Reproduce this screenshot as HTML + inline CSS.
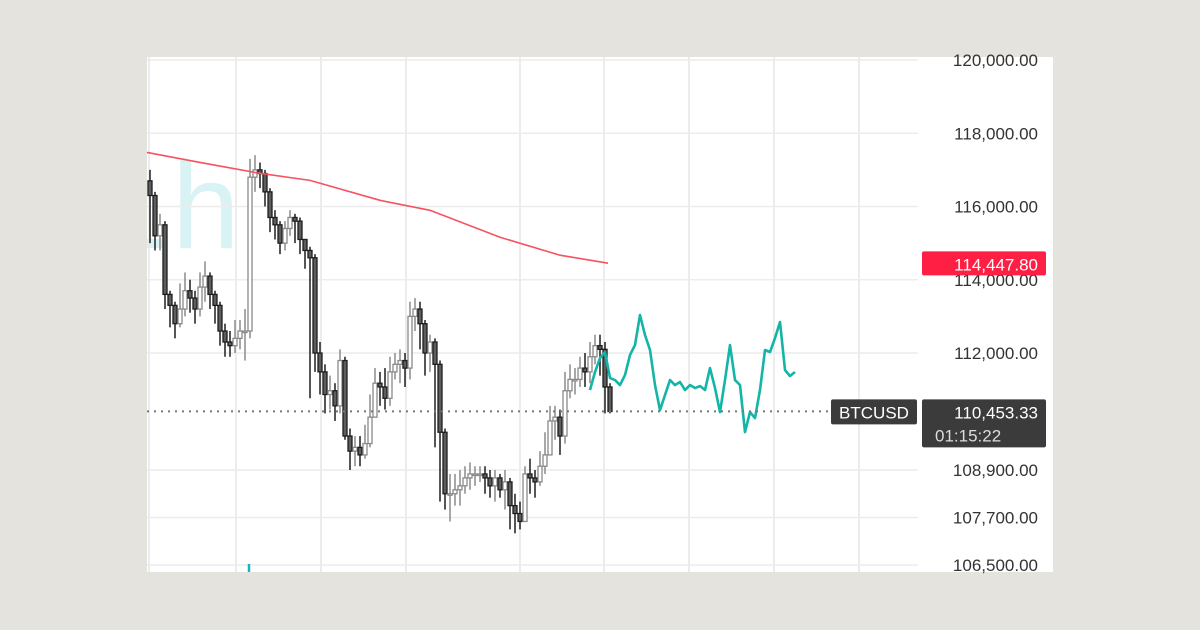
<!DOCTYPE html>
<html><head><meta charset="utf-8"><style>
html,body{margin:0;padding:0;background:#e4e3de;width:1200px;height:630px;overflow:hidden}
svg{display:block;font-family:"Liberation Sans",sans-serif}
</style></head><body>
<svg id="c" width="1200" height="630">
<defs><clipPath id="pc"><rect x="147" y="57" width="906" height="515"/></clipPath></defs>
<rect x="0" y="0" width="1200" height="630" fill="#e4e3de"/>
<rect x="147" y="57" width="906" height="515" fill="#ffffff"/>
<text x="104" y="248" font-size="122" fill="#d9f3f5" clip-path="url(#pc)">1h</text>
<g id="grid"></g><g id="marks"></g><g id="axis"></g>
</svg>
<script>
const tickValues=[120000,118000,116000,114000,112000,108900,107700,106500];
const tickLabels=["120,000.00","118,000.00","116,000.00","114,000.00","112,000.00","108,900.00","107,700.00","106,500.00"];
const closes=[116300,115200,115500,113600,113300,112800,113200,113700,113500,113200,113800,114100,113600,113300,112600,112300,112200,112400,112600,112600,116800,117000,116900,116400,115700,115500,115000,115400,115700,115600,115100,114800,114600,112000,111500,110900,111000,110600,111800,109800,109400,109500,109300,109600,110300,111200,111100,110800,111500,111700,111800,111600,113000,113200,112800,112000,112300,111700,109900,108300,108300,108400,108500,108700,108800,108800,108800,108700,108500,108700,108400,108600,108000,107800,107600,108800,108700,108600,109000,109300,110200,110300,109800,111000,111300,111300,111600,111500,111900,112200,112100,111100,110450];
const firstOpen=116700;
const highs=[117000,116400,115800,115600,113700,113400,113900,114200,114000,113700,114200,114500,114200,113700,113400,112800,112600,112900,112900,113200,117300,117400,117200,117000,116500,115900,115600,115600,115900,115800,115700,115000,114900,114700,112300,111700,111400,111200,112100,111900,110000,109800,109800,110100,110900,111600,111500,111600,111900,112000,112100,112000,113400,113500,113400,112900,112500,112400,111800,110000,108800,108800,108900,109000,109100,109000,109000,109000,108900,108900,108800,108900,108700,108300,108100,109000,109200,108900,109400,109900,110600,110600,110500,111500,111700,111600,111900,112000,112300,112500,112500,112300,111200];
const lows=[115000,114800,114800,113200,112700,112400,112700,113000,113100,112800,113000,113400,113200,112800,112200,111900,111900,112000,112100,111800,112400,116400,116500,116000,115300,115100,114700,114800,115200,115000,114700,114300,110800,111500,110900,110400,110500,110200,110400,109700,108900,109000,109000,109200,109500,110400,110600,110500,110600,111300,111200,111100,111300,112600,112100,111400,111500,109500,108100,107900,107600,108000,108000,108300,108400,108500,108600,108300,108200,108100,108200,107900,107400,107300,107400,107800,108300,108200,108500,108800,109500,109700,109300,109600,110800,110900,111100,111100,111200,111700,111400,110400,110400];
const maIdx=[-0.6,10,22,32,46,56,70,82,91.6];
const maVals=[117477,117204,116905,116714,116169,115896,115161,114670,114452];
const fcStart=88;
const forecast=[111019,111496,111867,112027,111337,111284,111151,111416,111947,112218,113035,112490,112082,111151,110488,110886,111284,111151,111231,111019,111151,111072,111125,111019,111602,111072,110435,111284,112218,111284,111151,109905,110435,110276,111019,112082,112027,112409,112845,111549,111390,111496];
const maLast=114447.80, lastPrice=110453.33;

const NS="http://www.w3.org/2000/svg";
function el(t,a,p){const e=document.createElementNS(NS,t);for(const k in a)e.setAttribute(k,a[k]);p.appendChild(e);return e;}
const sp=[[120000,60],[112000,353],[108900,470],[106500,565]];
function y(p){for(let i=0;i<sp.length-1;i++){const[a,ya]=sp[i],[b,yb]=sp[i+1];if(p>=b||i==sp.length-2)return ya+(a-p)*(yb-ya)/(a-b);}return 565;}
function x(i){return 150+i*5;}
const grid=document.getElementById('grid'),marks=document.getElementById('marks'),axis=document.getElementById('axis');
[149,236,321,406,520,604,689,774,859].forEach(gx=>{const l=el('line',{x1:gx,x2:gx,y1:57,y2:572,stroke:'#e6e6e6','stroke-width':1.5},grid);

});
tickValues.forEach((v,i)=>{const ty=y(v);
const l=el('line',{x1:147,x2:918,y1:ty,y2:ty,stroke:'#ececec','stroke-width':1.5},grid);


const t=el('text',{x:1038,y:ty+6,'text-anchor':'end','font-size':17,fill:'#333'},axis);t.textContent=tickLabels[i];

});
closes.forEach((c,i)=>{const o=i?closes[i-1]:firstOpen;const up=c>=o;const cx=x(i);
const h=Math.max(highs[i]||c,o,c),lo=Math.min(lows[i]||c,o,c);
const col=up?'#8a8a8a':'#1e1e1e';
const w=el('line',{x1:cx,x2:cx,y1:y(h),y2:y(lo),stroke:col,'stroke-width':1.5},marks);


const top=y(Math.max(o,c)),bh=Math.max(1.5,y(Math.min(o,c))-top);
const b=el('rect',{x:cx-2,y:top,width:4,height:bh,fill:up?'#fff':'#5e5e5e',stroke:col,'stroke-width':1.3},marks);

});
const ma=el('polyline',{points:maIdx.map((t,i)=>x(t)+','+y(maVals[i])).join(' '),fill:'none',stroke:'#f7525f','stroke-width':1.6},marks);


const fc=el('polyline',{points:forecast.map((v,i)=>x(fcStart+i)+','+y(v)).join(' '),fill:'none',stroke:'#12b5a8','stroke-width':2.6,'stroke-linejoin':'round'},marks);


const ly=y(lastPrice);
const dl=el('line',{x1:147,x2:831,y1:ly,y2:ly,stroke:'#777','stroke-width':2,'stroke-dasharray':'2 5'},marks);


const tk=el('line',{x1:249,x2:249,y1:564,y2:572,stroke:'#12b5c8','stroke-width':2.5},marks);


const my=y(maLast);
const r1=el('rect',{x:922,y:my-12,width:124,height:24,rx:2,fill:'#ff1f44'},axis);


const t1=el('text',{x:1038,y:my+7,'text-anchor':'end','font-size':17,fill:'#fff'},axis);t1.textContent='114,447.80';


const r2=el('rect',{x:831,y:ly-12,width:86,height:25,rx:2,fill:'#3b3b3b'},axis);


const t2=el('text',{x:874,y:ly+7,'text-anchor':'middle','font-size':17,fill:'#fff'},axis);t2.textContent='BTCUSD';


const r3=el('rect',{x:922,y:ly-12,width:124,height:48,rx:2,fill:'#3b3b3b'},axis);


const t3=el('text',{x:1038,y:ly+7,'text-anchor':'end','font-size':17,fill:'#fff'},axis);t3.textContent='110,453.33';


const t4=el('text',{x:935,y:ly+30,'font-size':17,fill:'#ddd'},axis);t4.textContent='01:15:22';


</script>
</body></html>
